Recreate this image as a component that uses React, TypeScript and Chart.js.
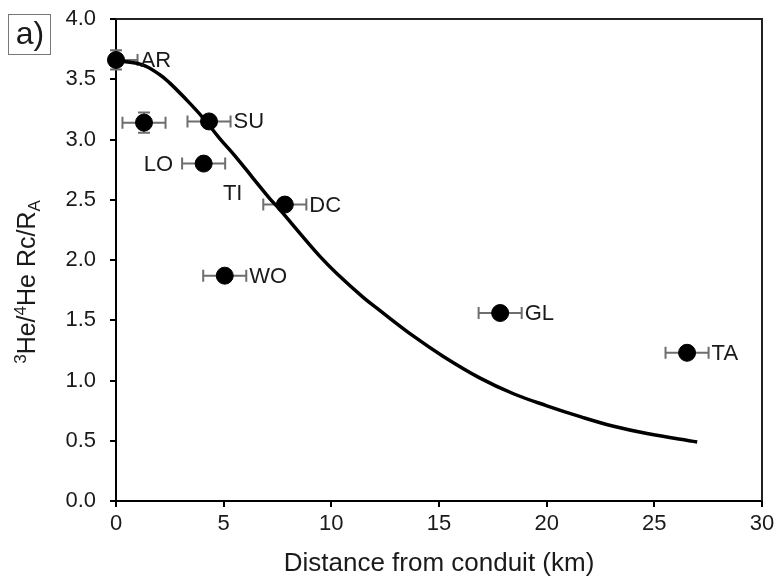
import React, { useEffect, useRef } from "react";
import { Chart, registerables } from "chart.js";

Chart.register(...registerables);

// ---- data ----
const siteNames = ["AR", "", "SU", "LO", "DC", "WO", "GL", "TA"];
const distanceKm = [0.0, 1.3, 4.32, 4.07, 7.84, 5.05, 17.84, 26.52];
const heliumRatio = [3.66, 3.14, 3.15, 2.8, 2.46, 1.87, 1.56, 1.23];
const distanceErr = [1.0, 1.0, 1.0, 1.0, 1.0, 1.0, 1.0, 1.0];
const ratioErr = [0.08, 0.085, 0.03, 0.03, 0.03, 0.03, 0.03, 0.03];

const extraLabels = ["TI"];
const extraLabelX = [5.42];
const extraLabelY = [2.55];

const modelDistance = [0, 0.3, 1.23, 2.02, 2.49, 3.27, 4.04, 4.81, 5.59, 6.36, 7.14, 7.6, 8.69, 9.47, 10.24, 11.48, 12.26, 13.8, 15.2, 16.91, 18.46, 20.01, 21.56, 23.11, 24.66, 26.99];
const modelRatio = [3.66, 3.65, 3.62, 3.54, 3.47, 3.33, 3.18, 3.01, 2.85, 2.68, 2.51, 2.42, 2.19, 2.03, 1.89, 1.69, 1.58, 1.37, 1.2, 1.02, 0.89, 0.79, 0.7, 0.62, 0.56, 0.49];

const xTickValues = [0, 5, 10, 15, 20, 25, 30];
const yTickValues = [0, 0.5, 1, 1.5, 2, 2.5, 3, 3.5, 4];

const xAxisTitle = "Distance from conduit (km)";
const panelLabel = "a)";

const FONT = "'Liberation Sans', Arial, sans-serif";
const TEXT = "#1a1a1a";

export default function App() {
  const ref = useRef<HTMLCanvasElement | null>(null);

  useEffect(() => {
    const canvas = ref.current;
    if (!canvas) return;

    const labelSide = (name: string) => (name === "LO" ? "left" : "right");

    const errorBars = {
      id: "errorBars",
      beforeDatasetsDraw(chart: any) {
        const { ctx, chartArea, scales } = chart;
        const xs = scales.x;
        const ys = scales.y;
        ctx.save();
        ctx.strokeStyle = "#6e6e6e";
        ctx.lineWidth = 2;
        const cap = 6;
        for (let i = 0; i < distanceKm.length; i++) {
          const cx = xs.getPixelForValue(distanceKm[i]);
          const cy = ys.getPixelForValue(heliumRatio[i]);
          const x1 = xs.getPixelForValue(distanceKm[i] - distanceErr[i]);
          const x2 = xs.getPixelForValue(distanceKm[i] + distanceErr[i]);
          const y1 = ys.getPixelForValue(heliumRatio[i] + ratioErr[i]);
          const y2 = ys.getPixelForValue(heliumRatio[i] - ratioErr[i]);
          ctx.beginPath();
          const lx = Math.max(x1, chartArea.left);
          ctx.moveTo(lx, cy);
          ctx.lineTo(x2, cy);
          if (x1 >= chartArea.left) {
            ctx.moveTo(x1, cy - cap);
            ctx.lineTo(x1, cy + cap);
          }
          ctx.moveTo(x2, cy - cap);
          ctx.lineTo(x2, cy + cap);
          ctx.moveTo(cx, y1);
          ctx.lineTo(cx, y2);
          ctx.moveTo(cx - cap, y1);
          ctx.lineTo(cx + cap, y1);
          ctx.moveTo(cx - cap, y2);
          ctx.lineTo(cx + cap, y2);
          ctx.stroke();
        }
        ctx.restore();
      },
    };

    const decorations = {
      id: "decorations",
      afterDraw(chart: any) {
        const { ctx, chartArea, scales } = chart;
        const xs = scales.x;
        const ys = scales.y;
        ctx.save();
        // top & right frame
        ctx.strokeStyle = "#222";
        ctx.lineWidth = 2;
        ctx.beginPath();
        ctx.moveTo(chartArea.left, chartArea.top);
        ctx.lineTo(chartArea.right, chartArea.top);
        ctx.lineTo(chartArea.right, chartArea.bottom);
        ctx.stroke();

        // point labels
        ctx.fillStyle = TEXT;
        ctx.font = `22px ${FONT}`;
        ctx.textBaseline = "middle";
        for (let i = 0; i < siteNames.length; i++) {
          const name = siteNames[i];
          if (!name) continue;
          const cy = ys.getPixelForValue(heliumRatio[i]);
          if (labelSide(name) === "left") {
            ctx.textAlign = "right";
            ctx.fillText(name, xs.getPixelForValue(distanceKm[i] - distanceErr[i]) - 9, cy + 1);
          } else {
            ctx.textAlign = "left";
            ctx.fillText(name, xs.getPixelForValue(distanceKm[i] + distanceErr[i]) + 3, cy + 1);
          }
        }
        for (let i = 0; i < extraLabels.length; i++) {
          ctx.textAlign = "center";
          ctx.fillText(extraLabels[i], xs.getPixelForValue(extraLabelX[i]), ys.getPixelForValue(extraLabelY[i]));
        }

        // y axis title with super/subscripts
        const parts: { t: string; size: number; dy: number }[] = [
          { t: "3", size: 17, dy: -9 },
          { t: "He/", size: 25, dy: 0 },
          { t: "4", size: 17, dy: -9 },
          { t: "He Rc/R", size: 25, dy: 0 },
          { t: "A", size: 17, dy: 5 },
        ];
        let total = 0;
        for (const p of parts) {
          ctx.font = `${p.size}px ${FONT}`;
          total += ctx.measureText(p.t).width;
        }
        ctx.translate(35, (chartArea.top + chartArea.bottom) / 2 + 22);
        ctx.rotate(-Math.PI / 2);
        ctx.textAlign = "left";
        ctx.textBaseline = "alphabetic";
        let x = -total / 2;
        for (const p of parts) {
          ctx.font = `${p.size}px ${FONT}`;
          ctx.fillText(p.t, x, p.dy);
          x += ctx.measureText(p.t).width;
        }
        ctx.restore();

        // panel label box
        ctx.save();
        ctx.strokeStyle = "#777";
        ctx.lineWidth = 1;
        ctx.strokeRect(8.5, 14.5, 42, 40);
        ctx.fillStyle = TEXT;
        ctx.font = `32px ${FONT}`;
        ctx.textAlign = "center";
        ctx.textBaseline = "middle";
        ctx.fillText(panelLabel, 30, 35);
        ctx.restore();
      },
    };

    const chart = new Chart(canvas, {
      type: "scatter",
      data: {
        datasets: [
          {
            type: "line",
            label: "model",
            data: modelDistance.map((x, i) => ({ x, y: modelRatio[i] })),
            borderColor: "#000",
            borderWidth: 3.5,
            pointRadius: 0,
            tension: 0.4,
            fill: false,
            order: 1,
          } as any,
          {
            type: "scatter",
            label: "sites",
            data: distanceKm.map((x, i) => ({ x, y: heliumRatio[i] })),
            backgroundColor: "#000",
            borderColor: "#000",
            pointRadius: 8.5,
            pointHoverRadius: 8.5,
            clip: false,
            order: 0,
          } as any,
        ],
      },
      options: {
        animation: false,
        responsive: false,
        events: [],
        layout: { padding: { left: 0, right: 13, top: 19, bottom: 0 } },
        plugins: { legend: { display: false }, tooltip: { enabled: false } },
        scales: {
          x: {
            type: "linear",
            min: 0,
            max: 30,
            afterFit: (s: any) => {
              s.height = 84;
              s.paddingLeft = 0;
              s.paddingRight = 0;
            },
            afterBuildTicks: (s: any) => {
              s.ticks = xTickValues.map((v) => ({ value: v }));
            },
            ticks: { color: TEXT, font: { family: FONT, size: 22 }, padding: 4 },
            grid: { display: true, drawOnChartArea: false, drawTicks: true, tickLength: 6, color: "#000", lineWidth: 2 },
            border: { display: true, color: "#000", width: 2 },
            title: { display: true, text: xAxisTitle, color: TEXT, font: { family: FONT, size: 26 }, padding: { top: 0, bottom: 6 } },
          },
          y: {
            type: "linear",
            min: 0,
            max: 4,
            afterFit: (s: any) => {
              s.width = 116;
              s.paddingTop = 0;
              s.paddingBottom = 0;
            },
            afterBuildTicks: (s: any) => {
              s.ticks = yTickValues.map((v) => ({ value: v }));
            },
            ticks: { color: TEXT, font: { family: FONT, size: 22 }, padding: 14, callback: (v: any) => Number(v).toFixed(1) },
            grid: { display: true, drawOnChartArea: false, drawTicks: true, tickLength: 6, color: "#000", lineWidth: 2 },
            border: { display: true, color: "#000", width: 2 },
          },
        },
      },
      plugins: [errorBars, decorations],
    });

    return () => chart.destroy();
  }, []);

  return (
    <div style={{ position: "fixed", left: 0, top: 0, width: 775, height: 585, background: "#fff" }}>
      <canvas ref={ref} width={775} height={585} style={{ width: 775, height: 585, display: "block" }} />
    </div>
  );
}
